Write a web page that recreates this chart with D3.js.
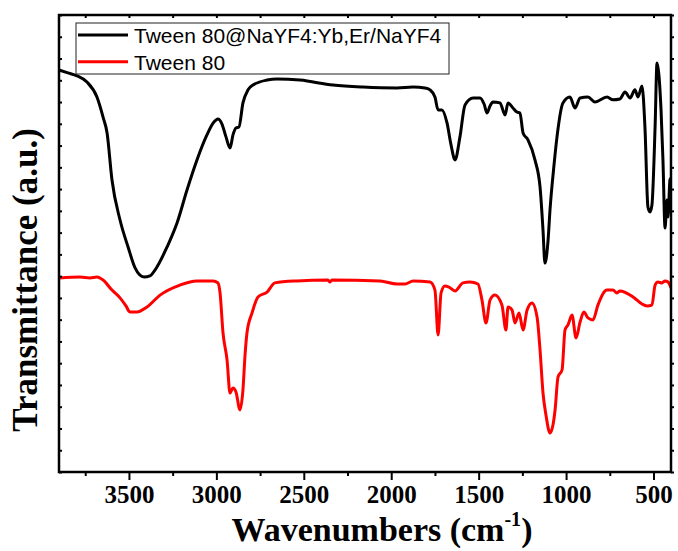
<!DOCTYPE html>
<html><head><meta charset="utf-8">
<script src="https://cdn.jsdelivr.net/npm/d3@7"></script>
<style>body{margin:0;background:#fff}svg{display:block}</style>
</head><body>
<svg id="c" width="678" height="551"></svg>
<script>
// Wavenumbers (cm^-1) and transmittance (a.u.)
const blackWave = [3900,3849,3797,3740,3683,3648,3625,3597,3551,3505,3465,3414,3380,3351,3282,3225,3168,3111,3054,3014,2991,2968,2945,2922,2905,2888,2871,2848,2819,2791,2710,2653,2522,2333,2161,1967,1875,1807,1778,1750,1732,1710,1681,1658,1635,1607,1578,1532,1492,1469,1452,1435,1418,1378,1349,1332,1304,1281,1264,1246,1218,1178,1149,1132,1121,1103,1092,1069,1052,1018,978,949,920,875,835,766,732,692,663,634,606,589,566,549,532,520,509,491,480,469,457,446,434,423,417,406,400];
const blackVal  = [18.47,18.34,18.20,17.92,17.23,16.31,15.58,13.42,11.58,10.34,9.38,8.96,9.01,9.28,10.34,11.44,12.96,14.34,15.49,16.08,16.22,15.99,15.40,14.89,15.49,15.81,15.85,16.96,17.56,17.78,18.01,18.06,18.01,17.78,17.69,17.65,17.69,17.65,17.56,17.23,16.64,16.64,16.04,15.03,14.34,15.40,16.87,17.19,17.19,16.91,16.50,16.82,17.00,16.96,16.41,16.96,16.73,16.54,16.50,15.58,15.26,14.34,13.10,11.12,9.60,10.66,12.04,14.11,15.40,16.96,17.23,16.73,17.19,17.23,17.00,17.23,17.10,17.14,17.46,17.19,17.56,17.23,17.74,15.85,12.18,11.95,12.27,15.85,18.80,18.24,16.64,14.34,11.21,12.50,11.72,13.42,13.51];
const redWave = [3900,3780,3723,3683,3648,3597,3551,3517,3494,3454,3397,3322,3208,3111,3019,2991,2979,2962,2939,2922,2905,2888,2865,2848,2836,2825,2796,2762,2710,2665,2539,2362,2350,2339,2064,1967,1921,1875,1778,1750,1732,1715,1693,1670,1635,1590,1550,1504,1481,1458,1435,1407,1367,1344,1332,1309,1292,1269,1246,1223,1195,1166,1149,1132,1115,1092,1075,1063,1046,1023,1006,989,966,943,920,898,875,846,818,766,732,709,692,617,566,537,509,491,475,452,434,417,400];
const redVal  = [8.92,8.96,8.92,8.96,8.82,8.36,8.00,7.63,7.35,7.35,7.58,8.13,8.59,8.78,8.78,8.69,8.23,6.39,5.15,3.63,3.86,3.68,2.85,3.77,5.38,6.39,7.31,8.04,8.27,8.69,8.78,8.82,8.73,8.82,8.78,8.64,8.64,8.78,8.73,8.36,6.30,8.23,8.55,8.50,8.32,8.69,8.73,8.64,7.90,6.85,7.90,8.13,7.67,6.53,7.58,7.44,6.85,7.31,6.53,7.44,7.77,7.12,5.61,3.63,2.62,1.79,2.16,2.85,4.37,4.69,6.53,6.76,7.21,6.16,6.89,7.35,7.08,6.99,7.67,8.36,8.36,8.23,8.32,8.04,7.72,7.63,7.67,8.59,8.73,8.69,8.78,8.73,8.46];
const seriesNames = ["Tween 80@NaYF4:Yb,Er/NaYF4","Tween 80"];
const seriesColors = ["#000000","#ff0000"];
const xMajorTicks = [3500,3000,2500,2000,1500,1000,500];
const xMinorTicks = [3750,3250,2750,2250,1750,1250,750];
const yTicks = d3.range(0,22);

const svg = d3.select("#c");
const L=59, R=671, T=15, B=472;
const x = d3.scaleLinear().domain([3900,400]).range([L,R]);
const y = d3.scaleLinear().domain([0,21]).range([B,T]);
const serif = "'Liberation Serif','Times New Roman',serif";
const sans = "'Liberation Sans',Arial,sans-serif";

const line = d3.line().x(d=>x(d[0])).y(d=>y(d[1])).curve(d3.curveMonotoneX);
const black = blackWave.map((w,i)=>[w,blackVal[i]]);
const red = redWave.map((w,i)=>[w,redVal[i]]);
const clip = svg.append("clipPath").attr("id","cp").append("rect").attr("x",L).attr("y",T).attr("width",R-L).attr("height",B-T);
const g = svg.append("g").attr("clip-path","url(#cp)");
g.append("path").datum(black).attr("d",line).attr("fill","none").attr("stroke",seriesColors[0]).attr("stroke-width",3).attr("stroke-linejoin","round");
g.append("path").datum(red).attr("d",line).attr("fill","none").attr("stroke",seriesColors[1]).attr("stroke-width",3).attr("stroke-linejoin","round");

// axes
const axB = svg.append("g").attr("transform",`translate(0,${B})`)
  .call(d3.axisBottom(x).tickValues(xMajorTicks).tickSize(8).tickFormat(d3.format("d")));
const axBm = svg.append("g").attr("transform",`translate(0,${B})`)
  .call(d3.axisBottom(x).tickValues(xMinorTicks).tickSize(4).tickFormat(""));
const axT = svg.append("g").attr("transform",`translate(0,${T})`)
  .call(d3.axisTop(x).tickValues(xMajorTicks.concat(xMinorTicks)).tickSize(-3).tickFormat(""));
const axL = svg.append("g").attr("transform",`translate(${L},0)`)
  .call(d3.axisLeft(y).tickValues(yTicks).tickSize(-3).tickFormat(""));
const axR = svg.append("g").attr("transform",`translate(${R},0)`)
  .call(d3.axisRight(y).tickValues(yTicks).tickSize(3).tickFormat(""));
[axB,axBm,axT,axL,axR].forEach(a=>{
  a.select(".domain").remove();
  a.selectAll(".tick line").attr("stroke","#000").attr("stroke-width",2);
});
axB.selectAll(".tick text").attr("font-family",serif).attr("font-weight","bold").attr("font-size",25).attr("fill","#000").attr("y",13).attr("dy","0.71em");
svg.append("rect").attr("x",L).attr("y",T).attr("width",R-L).attr("height",B-T).attr("fill","none").attr("stroke","#000").attr("stroke-width",2.5);

// titles
const xt = svg.append("text").attr("x",382).attr("y",541).attr("text-anchor","middle")
  .attr("font-family",serif).attr("font-weight","bold").attr("font-size",34).attr("fill","#000");
xt.append("tspan").text("Wavenumbers (cm");
xt.append("tspan").attr("font-size",20).attr("dy",-15).text("-1");
xt.append("tspan").attr("dy",15).text(")");
svg.append("text").attr("transform","translate(37,280) rotate(-90)").attr("text-anchor","middle")
  .attr("font-family",serif).attr("font-weight","bold").attr("font-size",35).attr("fill","#000")
  .text("Transmittance (a.u.)");

// legend
const lg = svg.append("g");
lg.append("rect").attr("x",76).attr("y",23).attr("width",373).attr("height",51).attr("fill","#fff").attr("stroke","#222").attr("stroke-width",1);
seriesNames.forEach((n,i)=>{
  const yy = 35 + i*26.7;
  lg.append("line").attr("x1",78).attr("x2",128).attr("y1",yy).attr("y2",yy).attr("stroke",seriesColors[i]).attr("stroke-width",3);
  lg.append("text").attr("x",134).attr("y",43+i*27).attr("font-family",sans).attr("font-size",21).attr("fill","#000").text(n);
});
</script>
</body></html>
